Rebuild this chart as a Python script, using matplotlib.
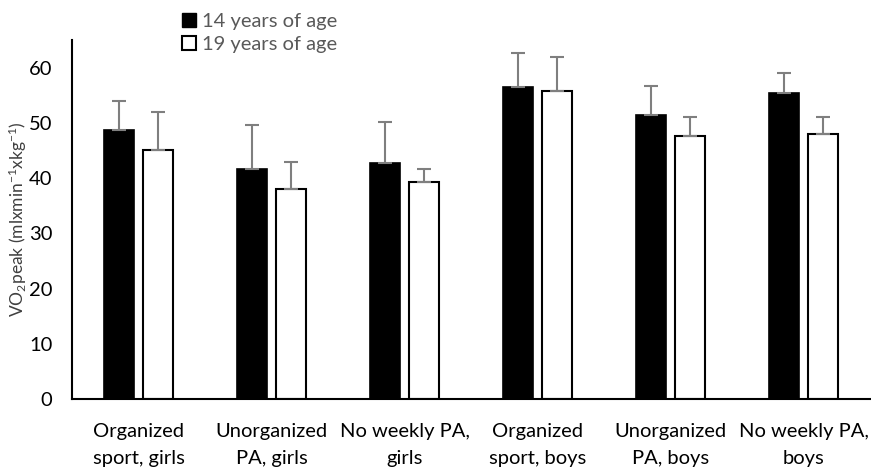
import numpy as np
import matplotlib
matplotlib.use("Agg")
import matplotlib.pyplot as plt
from matplotlib.patches import Patch

# values
categories = ["Organized\nsport, girls", "Unorganized\nPA, girls", "No weekly PA,\ngirls",
              "Organized\nsport, boys", "Unorganized\nPA, boys", "No weekly PA,\nboys"]
age14 = [48.7, 41.7, 42.7, 56.4, 51.4, 55.4]
age14_sd = [5.3, 7.9, 7.4, 6.3, 5.3, 3.6]
age19 = [45.1, 38.0, 39.3, 55.7, 47.7, 48.0]
age19_sd = [6.9, 5.0, 2.3, 6.3, 3.3, 3.0]
yticks = [0, 10, 20, 30, 40, 50, 60]

plt.rcParams["font.family"] = ["Lato", "DejaVu Sans"]
plt.rcParams["mathtext.default"] = "regular"

fig = plt.figure(figsize=(8.71, 4.68), dpi=100)
ax = fig.add_axes([72 / 871, 69 / 468, 798 / 871, 359 / 468])

x = np.arange(len(categories))
w = 0.225
off = 0.145
err_kw = dict(ecolor="#7f7f7f", elinewidth=1.5, capsize=5, capthick=1.5)

ax.bar(x - off, age14, w, color="black", edgecolor="black", linewidth=1.2,
       yerr=[np.zeros(len(age14)), age14_sd], error_kw=err_kw, zorder=2)
ax.bar(x + off, age19, w, color="white", edgecolor="black", linewidth=1.5,
       yerr=[np.zeros(len(age19)), age19_sd], error_kw=err_kw, zorder=2)

ax.set_xlim(-0.5, len(categories) - 0.5)
ax.set_ylim(0, 65)
ax.set_yticks(yticks)
ax.set_xticks(x)
ax.set_xticklabels(categories, fontsize=14.5, linespacing=1.75)
ax.tick_params(axis="both", length=0, labelsize=14.5)
ax.tick_params(axis="x", pad=17)
ax.tick_params(axis="y", pad=14)

for s in ["top", "right"]:
    ax.spines[s].set_visible(False)
for s in ["left", "bottom"]:
    ax.spines[s].set_linewidth(1.5)

ax.set_ylabel("VO$_2$peak (mlxmin$^{-1}$xkg$^{-1}$)", fontsize=12.5, color="#404040",
              labelpad=0)

handles = [Patch(facecolor="black", edgecolor="black", label="14 years of age"),
           Patch(facecolor="white", edgecolor="black", linewidth=1.5, label="19 years of age")]
leg = fig.legend(handles=handles, loc="upper left", bbox_to_anchor=(174 / 871, 0.99),
                 frameon=False, fontsize=14.5, handlelength=0.7, handleheight=0.7,
                 handletextpad=0.3, labelspacing=0.3, borderaxespad=0)
for t in leg.get_texts():
    t.set_color("#595959")

fig.savefig("out.png", dpi=100, facecolor="white")
